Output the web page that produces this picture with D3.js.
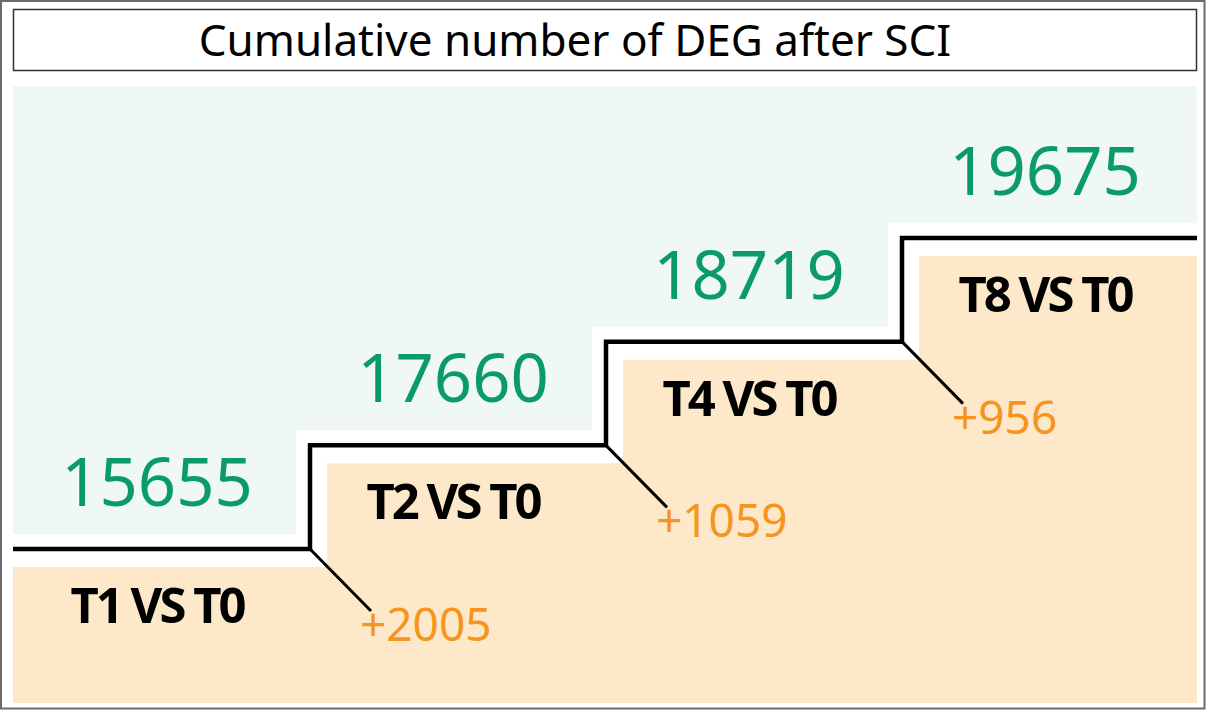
<!DOCTYPE html>
<html><head><meta charset="utf-8">
<script src="https://cdn.jsdelivr.net/npm/d3@7"></script>
<style>html,body{margin:0;padding:0;background:#fff;}svg{display:block;}</style>
</head><body>
<script>
const categories = ["T1 VS T0", "T2 VS T0", "T4 VS T0", "T8 VS T0"];
const cumulative = [15655, 17660, 18719, 19675];
const increments = [2005, 1059, 956];
const titleText = "Cumulative number of DEG after SCI";

const W = 1206, H = 710;
const svg = d3.select("body").append("svg").attr("width", W).attr("height", H);

const x = d3.scaleBand().domain(categories).range([14, 1198]).paddingInner(0).paddingOuter(0);
const y = d3.scalePoint().domain(categories).range([549, 238]);
const L = c => x(c), R = c => x(c) + x.bandwidth(), C = c => x(c) + x.bandwidth() / 2;
const n = categories.length;
const xMin = 13, xMax = 1197;

// outer frame
svg.append("rect").attr("x", 1).attr("y", 1).attr("width", W - 2.5).attr("height", H - 2.5)
  .attr("fill", "#fff").attr("stroke", "#6b6b6b").attr("stroke-width", 2);

// title box
svg.append("rect").attr("x", 13.5).attr("y", 9.5).attr("width", 1183).attr("height", 61)
  .attr("fill", "#fff").attr("stroke", "#333").attr("stroke-width", 1.5);
svg.append("text").attr("x", 575).attr("y", 56).attr("text-anchor", "middle")
  .attr("font-family", "'Noto Sans', sans-serif").attr("font-size", 44).attr("fill", "#000")
  .text(titleText);

// green area (above the steps)
const gTop = 86, gapG = 15, gapGx = 14;
let gp = d3.path();
gp.moveTo(xMin, gTop);
gp.lineTo(xMax, gTop);
for (let i = n - 1; i >= 0; i--) {
  const c = categories[i];
  gp.lineTo(i === n - 1 ? xMax : R(c) - gapGx, y(c) - gapG);
  gp.lineTo(i === 0 ? xMin : L(c) - gapGx, y(c) - gapG);
  if (i > 0) gp.lineTo(L(c) - gapGx, y(categories[i - 1]) - gapG);
}
gp.closePath();
svg.append("path").attr("d", gp.toString()).attr("fill", "#eff8f3");

// orange area (below the steps)
const oBot = 703, gapO = 18, gapOx = 17;
let op = d3.path();
op.moveTo(xMin, oBot);
op.lineTo(xMax, oBot);
for (let i = n - 1; i >= 0; i--) {
  const c = categories[i];
  op.lineTo(i === n - 1 ? xMax : R(c), y(c) + gapO);
  op.lineTo(i === 0 ? xMin : L(c) + gapOx, y(c) + gapO);
  if (i > 0) op.lineTo(L(c) + gapOx, y(categories[i - 1]) + gapO);
}
op.closePath();
svg.append("path").attr("d", op.toString()).attr("fill", "#fde9c9");

// step line
const stepPts = categories.map((c, i) => [i === 0 ? xMin : L(c), y(c)]);
stepPts.push([xMax, y(categories[n - 1])]);
svg.append("path").attr("d", d3.line().curve(d3.curveStepAfter)(stepPts))
  .attr("fill", "none").attr("stroke", "#000").attr("stroke-width", 4.5);

// diagonal leaders + increment labels
increments.forEach((v, i) => {
  const prev = categories[i], cur = categories[i + 1];
  const x0 = L(cur), y0 = y(prev);
  svg.append("line").attr("x1", x0).attr("y1", y0).attr("x2", x0 + 61).attr("y2", y0 + 62)
    .attr("stroke", "#000").attr("stroke-width", 3);
  svg.append("text").attr("x", x0 + 50).attr("y", y0 + 92)
    .attr("font-family", "'Noto Sans', sans-serif").attr("font-size", 46).attr("fill", "#f7941d")
    .text("+" + d3.format("d")(v));
});

// cumulative values and comparison labels
categories.forEach((c, i) => {
  svg.append("text").attr("x", C(c) - 5).attr("y", y(c) - 43).attr("text-anchor", "middle")
    .attr("font-family", "'Noto Sans', sans-serif").attr("font-size", 67).attr("fill", "#0a9b69")
    .text(d3.format("d")(cumulative[i]));
  svg.append("text").attr("x", C(c) - 5).attr("y", y(c) + 74).attr("text-anchor", "middle")
    .attr("font-family", "'Noto Sans', sans-serif").attr("font-weight", "bold").attr("font-size", 49)
    .attr("letter-spacing", -3).attr("fill", "#000")
    .text(c);
});
</script>
</body></html>
